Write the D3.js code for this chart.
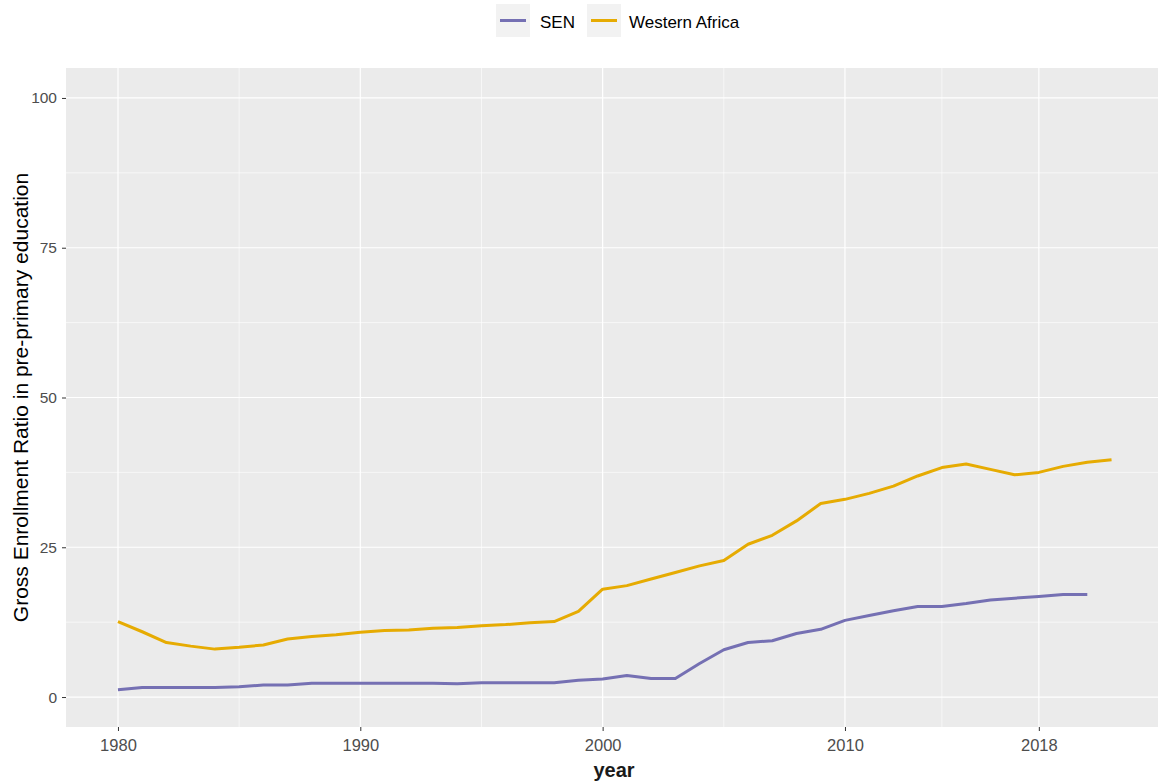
<!DOCTYPE html>
<html><head><meta charset="utf-8">
<script src="https://cdn.jsdelivr.net/npm/d3@7"></script>
<style>body{margin:0;background:#fff}svg{display:block;font-family:"Liberation Sans",Arial,sans-serif}</style>
</head><body><svg id="c" width="1158" height="781"></svg>
<script>
const years = d3.range(1980, 2022);
const senYears = d3.range(1980, 2021);
const senValues = [1.2,1.6,1.6,1.6,1.6,1.7,2.0,2.0,2.3,2.3,2.3,2.3,2.3,2.3,2.2,2.4,2.4,2.4,2.4,2.8,3.0,3.6,3.1,3.1,5.6,7.9,9.1,9.4,10.6,11.3,12.8,13.6,14.4,15.1,15.1,15.6,16.2,16.5,16.8,17.1,17.1];
const wafValues = [12.6,10.9,9.1,8.5,8.0,8.3,8.7,9.7,10.1,10.4,10.8,11.1,11.2,11.5,11.6,11.9,12.1,12.4,12.6,14.3,18.0,18.6,19.7,20.8,21.9,22.8,25.5,27.0,29.4,32.3,33.0,34.0,35.2,36.9,38.3,38.9,38.0,37.1,37.5,38.5,39.2,39.6];
const seriesNames = ["SEN","Western Africa"];
const seriesColors = ["#7570B3","#E6AB02"];
const xTicks = [1980,1990,2000,2010,2018];
const xMinor = [1985,1995,2005,2014];
const yTicks = [0,25,50,75,100];
const yMinor = [12.5,37.5,62.5,87.5];

const svg = d3.select("#c");
const L = 66, R = 1160, T = 68, B = 727;
const x = d3.scaleLinear().domain([1977.855, 2023.0]).range([L, R]);
const y = d3.scaleLinear().domain([-5, 105]).range([B, T]);

svg.append("rect").attr("x",L).attr("y",T).attr("width",R-L).attr("height",B-T).attr("fill","#EBEBEB");
const g = svg.append("g");
yMinor.forEach(v=>g.append("line").attr("x1",L).attr("x2",R).attr("y1",y(v)).attr("y2",y(v)).attr("stroke","#fff").attr("stroke-width",0.6));
xMinor.forEach(v=>g.append("line").attr("y1",T).attr("y2",B).attr("x1",x(v)).attr("x2",x(v)).attr("stroke","#fff").attr("stroke-width",0.6));
yTicks.forEach(v=>g.append("line").attr("x1",L).attr("x2",R).attr("y1",y(v)).attr("y2",y(v)).attr("stroke","#fff").attr("stroke-width",1.2));
xTicks.forEach(v=>g.append("line").attr("y1",T).attr("y2",B).attr("x1",x(v)).attr("x2",x(v)).attr("stroke","#fff").attr("stroke-width",1.2));

const line = d3.line().x(d=>x(d[0])).y(d=>y(d[1]));
const series = [senYears.map((yr,i)=>[yr,senValues[i]]), years.map((yr,i)=>[yr,wafValues[i]])];
series.forEach((s,i)=>svg.append("path").datum(s).attr("d",line).attr("fill","none").attr("stroke",seriesColors[i]).attr("stroke-width",3).attr("stroke-linejoin","round"));

const xa = svg.append("g").attr("transform",`translate(0,${B})`).call(d3.axisBottom(x).tickValues(xTicks).tickFormat(d3.format("d")).tickSize(4).tickPadding(8));
const ya = svg.append("g").attr("transform",`translate(${L},0)`).call(d3.axisLeft(y).tickValues(yTicks).tickSize(4).tickPadding(5));
[xa,ya].forEach(a=>{a.select(".domain").remove();a.selectAll(".tick line").attr("stroke","#333");a.selectAll(".tick text").attr("fill","#4D4D4D");});
xa.selectAll(".tick text").style("font-size","16.5px");
ya.selectAll(".tick text").style("font-size","15.5px");

svg.append("text").attr("x",(L+R)/2+1).attr("y",777).attr("text-anchor","middle").style("font-size","20px").style("font-weight","bold").attr("fill","#1a1a1a").text("year");
svg.append("text").attr("transform",`translate(28,${(T+B)/2}) rotate(-90)`).attr("text-anchor","middle").style("font-size","21px").attr("fill","#000").text("Gross Enrollment Ratio in pre-primary education");

const leg = svg.append("g");
const keyX = [496,587], textX = [540,629];
seriesNames.forEach((n,i)=>{
  leg.append("rect").attr("x",keyX[i]).attr("y",4).attr("width",34).attr("height",33).attr("fill","#F2F2F2");
  leg.append("line").attr("x1",keyX[i]+4).attr("x2",keyX[i]+30).attr("y1",20.5).attr("y2",20.5).attr("stroke",seriesColors[i]).attr("stroke-width",3);
  leg.append("text").attr("x",textX[i]).attr("y",28).style("font-size","17px").attr("fill","#000").text(n);
});
</script></body></html>
